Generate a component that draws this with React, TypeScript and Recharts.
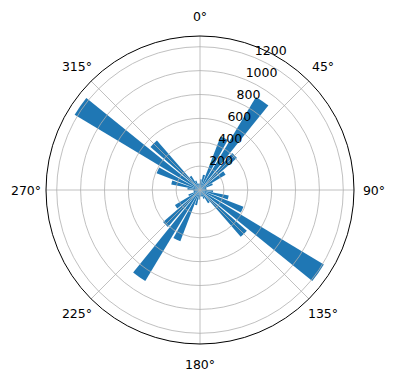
import React from "react";
import {
  RadialBarChart,
  RadialBar,
  PolarAngleAxis,
  PolarRadiusAxis,
  PolarGrid,
} from "recharts";

// Bin centres (compass degrees, clockwise from north)
const directions: number[] = [
  5, 15, 25, 35, 45, 55, 65, 75, 85,
  95, 105, 115, 125, 135, 145, 155, 165, 175,
  185, 195, 205, 215, 225, 235, 245, 255, 265,
  275, 285, 295, 305, 315, 325, 335, 345, 355,
];

// Counts per bin
const counts: number[] = [
  55, 90, 130, 480, 910, 410, 250, 115, 55,
  55, 110, 245, 390, 1210, 520, 130, 80, 55,
  55, 80, 130, 460, 890, 410, 245, 105, 55,
  55, 105, 245, 390, 1225, 550, 140, 85, 55,
];

const angleTicks: number[] = [0, 45, 90, 135, 180, 225, 270, 315];
const ringTicks: number[] = [200, 400, 600, 800, 1000, 1200];
const radiusMax = 1290;

const barData = directions.map((d, i) => ({ dir: String(d), count: counts[i] }));
const frameData = angleTicks.map((a) => ({ ang: `${a}°`, zero: 0 }));

const FONT = "'DejaVu Sans', sans-serif";
const FS = 12.5;
const W = 396;
const H = 380;
const CX = 200;
const CY = 190;
const R = 154;

const AngleTick = (props: any) => {
  const { x, y, payload } = props;
  return (
    <text
      x={x}
      y={y}
      textAnchor="middle"
      dominantBaseline="central"
      fontFamily={FONT}
      fontSize={FS}
      fill="#000"
    >
      {payload.value}
    </text>
  );
};

const RadiusTick = (props: any) => {
  const { x, y, payload } = props;
  return (
    <text
      x={x}
      y={y - 2.6}
      textAnchor="start"
      fontFamily={FONT}
      fontSize={FS}
      fill="#000"
    >
      {payload.value}
    </text>
  );
};

const layer: React.CSSProperties = { position: "absolute", left: 0, top: 0 };

export default function App() {
  return (
    <div style={{ position: "absolute", left: 0, top: 0, width: W, height: H, background: "#fff" }}>
      {/* Bars */}
      <div style={layer}>
        <RadialBarChart
          width={W}
          height={H}
          cx={CX}
          cy={CY}
          innerRadius={0}
          outerRadius={R}
          startAngle={90}
          endAngle={-270}
          layout="centric"
          data={barData}
          barCategoryGap="10%"
          margin={{ top: 0, right: 0, bottom: 0, left: 0 }}
        >
          <PolarAngleAxis type="category" dataKey="dir" tick={false} tickLine={false} axisLine={false} />
          <PolarRadiusAxis type="number" domain={[0, radiusMax]} tick={false} tickLine={false} axisLine={false} />
          <RadialBar dataKey="count" fill="#1f77b4" isAnimationActive={false} />
        </RadialBarChart>
      </div>
      {/* Frame: grid, outer circle and labels, drawn over the bars */}
      <div style={layer}>
        <RadialBarChart
          width={W}
          height={H}
          cx={CX}
          cy={CY}
          innerRadius={0}
          outerRadius={R}
          startAngle={90}
          endAngle={-270}
          layout="centric"
          data={frameData}
          margin={{ top: 0, right: 0, bottom: 0, left: 0 }}
        >
          <PolarAngleAxis
            type="category"
            dataKey="ang"
            tickSize={20}
            tick={AngleTick}
            tickLine={false}
            axisLineType="circle"
            axisLine={{ stroke: "#000", strokeWidth: 1 }}
          />
          <PolarRadiusAxis
            type="number"
            domain={[0, radiusMax]}
            ticks={ringTicks}
            angle={67.5}
            axisLine={false}
            tickLine={false}
            tick={RadiusTick}
          />
          <PolarGrid
            gridType="circle"
            polarAngles={angleTicks.map((a) => 90 - a)}
            stroke="#b0b0b0"
            strokeWidth={0.8}
          />
          <RadialBar dataKey="zero" fill="none" isAnimationActive={false} />
        </RadialBarChart>
      </div>
    </div>
  );
}
